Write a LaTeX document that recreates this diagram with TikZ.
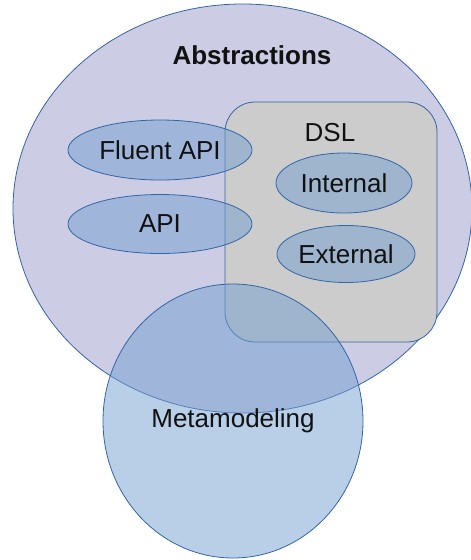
\documentclass[tikz,border=0pt]{standalone}
\usepackage{fontspec}
\setmainfont{Liberation Sans}
\usetikzlibrary{shapes.geometric}
\definecolor{lineblue}{HTML}{3465A4}
\definecolor{fillblue}{HTML}{729FCF}
\definecolor{lav}{HTML}{9999CC}
\definecolor{boxgray}{HTML}{CCCCCC}
\definecolor{txt}{HTML}{111111}
\tikzset{
  outl/.style={draw=lineblue, line width=0.8pt},
  bigset/.style={outl, ellipse, fill=lav, fill opacity=0.5, text opacity=1, inner sep=0pt},
  subset/.style={outl, ellipse, fill=fillblue, fill opacity=0.5, text opacity=1, inner sep=0pt, text=txt, font=\fontsize{26}{30}\selectfont},
  dslbox/.style={outl, rectangle, rounded corners=30pt, fill=boxgray, inner sep=0pt},
  lbl/.style={inner sep=0pt, text=txt, font=\fontsize{26}{30}\selectfont}
}
\begin{document}
\begin{tikzpicture}[x=1pt,y=-1pt]
\useasboundingbox (0,0) rectangle (471,560);
\node[bigset, minimum width=459pt, minimum height=409pt] (abs) at (242.5,208.5) {};
\node[lbl, font=\fontsize{26}{30}\selectfont\bfseries] (abslbl) at (252,55) {Abstractions};
\node[dslbox, minimum width=212pt, minimum height=240pt] (dsl) at (331,222) {};
\node[lbl] (dsllbl) at (330,133) {DSL};
\node[subset, minimum width=184pt, minimum height=60pt] (fluent) at (160,150) {Fluent API};
\node[subset, minimum width=184pt, minimum height=59pt] (api) at (160,224) {API};
\node[subset, minimum width=136pt, minimum height=60pt] (internal) at (344,183) {Internal};
\node[subset, minimum width=138pt, minimum height=57pt] (external) at (346,254) {External};
\node[subset, minimum width=260pt, minimum height=274pt] (meta) at (233,421) {Metamodeling};
\end{tikzpicture}
\end{document}
